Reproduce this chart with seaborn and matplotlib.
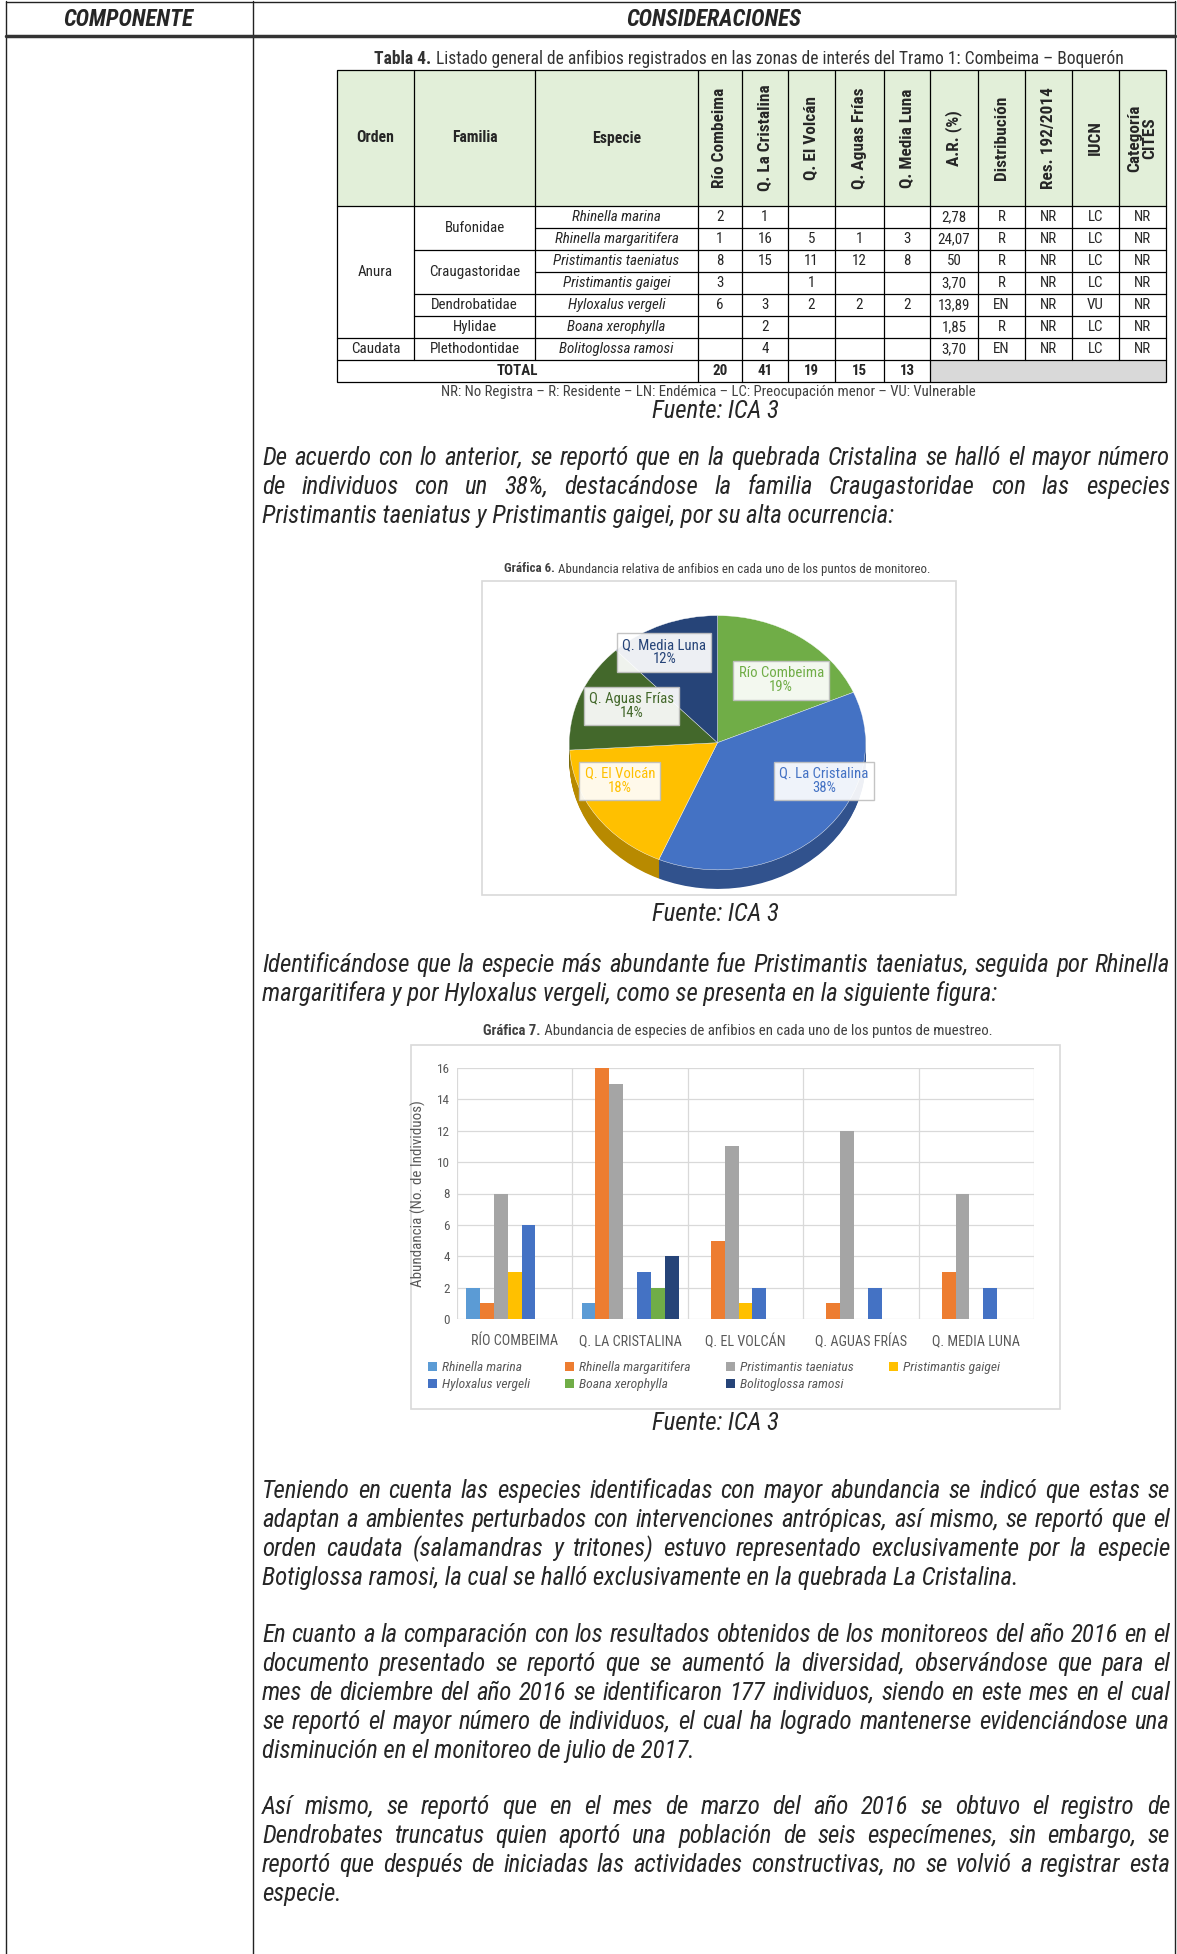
import numpy as np
import pandas as pd
import matplotlib
matplotlib.use('Agg')
import matplotlib.pyplot as plt
import matplotlib.font_manager as fm
from matplotlib.patches import Rectangle
import seaborn as sns

# Datos
sitios = ['Río Combeima', 'Q. La Cristalina', 'Q. El Volcán', 'Q. Aguas Frías', 'Q. Media Luna']
sitios_eje = ['RÍO COMBEIMA', 'Q. LA CRISTALINA', 'Q. EL VOLCÁN', 'Q. AGUAS FRÍAS', 'Q. MEDIA LUNA']
especies = ['Rhinella marina', 'Rhinella margaritifera', 'Pristimantis taeniatus', 'Pristimantis gaigei',
            'Hyloxalus vergeli', 'Boana xerophylla', 'Bolitoglossa ramosi']
familias = ['Bufonidae', 'Craugastoridae', 'Dendrobatidae', 'Hylidae', 'Plethodontidae']
familia_filas = [2, 2, 1, 1, 1]
ordenes = ['Anura', 'Caudata']
orden_filas = [6, 1]
# individuos por especie (fila) y sitio (columna)
conteos = [[2, 1, 0, 0, 0],
           [1, 16, 5, 1, 3],
           [8, 15, 11, 12, 8],
           [3, 0, 1, 0, 0],
           [6, 3, 2, 2, 2],
           [0, 2, 0, 0, 0],
           [0, 4, 0, 0, 0]]
distribucion = ['R', 'R', 'R', 'R', 'EN', 'R', 'EN']
resolucion = ['NR', 'NR', 'NR', 'NR', 'NR', 'NR', 'NR']
iucn = ['LC', 'LC', 'LC', 'LC', 'VU', 'LC', 'LC']
cites = ['NR', 'NR', 'NR', 'NR', 'NR', 'NR', 'NR']
encabezados_v = ['Río Combeima', 'Q. La Cristalina', 'Q. El Volcán', 'Q. Aguas Frías', 'Q. Media Luna',
                 'A.R. (%)', 'Distribución', 'Res. 192/2014', 'IUCN', 'Categoría\nCITES']

colores_especies = ['#5B9BD5', '#ED7D31', '#A5A5A5', '#FFC000', '#4472C4', '#70AD47', '#264478']
colores_pie = ['#70AD47', '#4472C4', '#FFC000', '#43682B', '#264478']

totales = [sum(f[j] for f in conteos) for j in range(len(sitios))]
gran_total = sum(totales)

parrafo1 = ["De acuerdo con lo anterior, se reportó que en la quebrada Cristalina se halló el mayor número",
            "de individuos con un 38%, destacándose la familia Craugastoridae con las especies",
            "Pristimantis taeniatus y Pristimantis gaigei, por su alta ocurrencia:"]
parrafo2 = ["Identificándose que la especie más abundante fue Pristimantis taeniatus, seguida por Rhinella",
            "margaritifera y por Hyloxalus vergeli, como se presenta en la siguiente figura:"]
parrafo3 = ["Teniendo en cuenta las especies identificadas con mayor abundancia se indicó que estas se",
            "adaptan a ambientes perturbados con intervenciones antrópicas, así mismo, se reportó que el",
            "orden caudata (salamandras y tritones) estuvo representado exclusivamente por la especie",
            "Botiglossa ramosi, la cual se halló exclusivamente en la quebrada La Cristalina."]
parrafo4 = ["En cuanto a la comparación con los resultados obtenidos de los monitoreos del año 2016 en el",
            "documento presentado se reportó que se aumentó la diversidad, observándose que para el",
            "mes de diciembre del año 2016 se identificaron 177 individuos, siendo en este mes en el cual",
            "se reportó el mayor número de individuos, el cual ha logrado mantenerse evidenciándose una",
            "disminución en el monitoreo de julio de 2017."]
parrafo5 = ["Así mismo, se reportó que en el mes de marzo del año 2016 se obtuvo el registro de",
            "Dendrobates truncatus quien aportó una población de seis especímenes, sin embargo, se",
            "reportó que después de iniciadas las actividades constructivas, no se volvió a registrar esta",
            "especie."]
parrafos = [parrafo1, parrafo2, parrafo3, parrafo4, parrafo5]

# Fuentes: se prefiere una tipografía angosta tipo Arial Narrow
sns.set_style('white')
nombres = {f.name for f in fm.fontManager.ttflist}
FUENTE = next((n for n in ['Liberation Sans Narrow', 'Arial Narrow', 'Roboto Condensed'] if n in nombres),
              'Liberation Sans')
plt.rcParams['font.family'] = [FUENTE, 'DejaVu Sans']

W, H = 1177, 1954
fig = plt.figure(figsize=(W / 100, H / 100), dpi=100)
ax = fig.add_axes([0, 0, 1, 1])
ax.set_xlim(0, W)
ax.set_ylim(H, 0)
ax.axis('off')
renderer = fig.canvas.get_renderer()


def frac(l, t, r, b):
    return [l / W, 1 - b / H, (r - l) / W, (b - t) / H]


def ancho(t):
    return t.get_window_extent(renderer).width


def medir(texto, size, family=None, **kw):
    t = ax.text(0, 0, texto, fontsize=size, family=family or [FUENTE], **kw)
    w = ancho(t)
    t.remove()
    return w


# factor de ancho de la fuente elegida respecto a Liberation Sans
muestra = 'Rhinella margaritifera Pristimantis 24,07'
WF = medir(muestra, 10) / medir(muestra, 10, family=['Liberation Sans'])

# Marco del formato
ax.plot([6, 6], [1, H], color='#222222', lw=1)
ax.plot([253, 253], [1, H], color='#222222', lw=1)
ax.plot([1175, 1175], [1, H], color='#222222', lw=1)
ax.plot([6, 1175], [1.5, 1.5], color='#222222', lw=1)
ax.plot([6, 1175], [36, 36], color='#333333', lw=2.5)
th = 14.6 / WF
ax.text(128, 19, 'COMPONENTE', fontsize=th, weight='bold', style='italic', ha='center', va='center')
ax.text(714, 19, 'CONSIDERACIONES', fontsize=th, weight='bold', style='italic', ha='center', va='center')

# Párrafos justificados
X0, X1, LH = 262, 1170, 29
TAM = min(10 * (X1 - X0 - 4) / medir(p[i], 10, style='italic')
          for p in parrafos for i in range(len(p) - 1))


def parrafo(lineas, y0):
    for i, linea in enumerate(lineas):
        y = y0 + i * LH
        palabras = linea.split(' ')
        if i == len(lineas) - 1:
            ax.text(X0, y, linea, fontsize=TAM, style='italic', va='center', ha='left')
            continue
        arts = [ax.text(0, y, p, fontsize=TAM, style='italic', va='center', ha='left') for p in palabras]
        anchos = [ancho(a) for a in arts]
        hueco = (X1 - X0 - sum(anchos)) / (len(palabras) - 1)
        x = X0
        for a, w in zip(arts, anchos):
            a.set_x(x)
            x += w + hueco


def titulo(xc, y, negrita, resto, size, color='#262626'):
    t1 = ax.text(0, y, negrita, fontsize=size, weight='bold', va='center', ha='left', color=color)
    t2 = ax.text(0, y, ' ' + resto, fontsize=size, va='center', ha='left', color=color)
    w1, w2 = ancho(t1), ancho(t2)
    t1.set_x(xc - (w1 + w2) / 2)
    t2.set_x(xc - (w1 + w2) / 2 + w1)


def fuente(y):
    ax.text(715, y, 'Fuente: ICA 3', fontsize=TAM, style='italic', ha='center', va='center')


# Tabla 4
titulo(749, 59, 'Tabla 4.', 'Listado general de anfibios registrados en las zonas de interés del Tramo 1: Combeima – Boquerón',
       11.2 / WF, color='#333333')
cols = [337, 414, 535, 698, 742, 788, 835, 884, 930, 978, 1025, 1072, 1119, 1166]
top, hb, rh = 70, 206, 22
nf = len(especies)
bottom = hb + (nf + 1) * rh
tc = '#262626'
ts = 9.6 / WF
ax.add_patch(Rectangle((cols[0], top), cols[-1] - cols[0], hb - top, color='#E2EFD9', lw=0))
ax.add_patch(Rectangle((cols[8], hb + nf * rh), cols[-1] - cols[8], rh, color='#D9D9D9', lw=0))
ax.add_patch(Rectangle((cols[0], top), cols[-1] - cols[0], bottom - top, fill=False, ec='black', lw=0.9))
ax.plot([cols[0], cols[-1]], [hb, hb], color='black', lw=0.9)
for k, c in enumerate(cols[1:-1], start=1):
    y_fin = bottom if k in (3, 4, 5, 6, 7, 8) else hb + nf * rh
    ax.plot([c, c], [top, y_fin], color='black', lw=0.9)
lim_fam = np.cumsum(familia_filas)
lim_ord = np.cumsum(orden_filas)
for k in range(1, nf + 1):
    y = hb + k * rh
    x_ini = cols[2]
    if k in lim_fam:
        x_ini = cols[1]
    if k in lim_ord:
        x_ini = cols[0]
    ax.plot([x_ini, cols[-1]], [y, y], color='black', lw=0.9)
ymid_h = (top + hb) / 2
for j, lab in enumerate(['Orden', 'Familia', 'Especie']):
    ax.text((cols[j] + cols[j + 1]) / 2, ymid_h, lab, fontsize=ts * 1.05, weight='bold', ha='center', va='center', color=tc)
for j, lab in enumerate(encabezados_v):
    ax.text((cols[j + 3] + cols[j + 4]) / 2, ymid_h, lab, fontsize=11 / WF, weight='bold', rotation=90,
            ha='center', va='center', color=tc, linespacing=1.0)
inicio = 0
for fam, n in zip(familias, familia_filas):
    ax.text((cols[1] + cols[2]) / 2, hb + (inicio + n / 2) * rh, fam, fontsize=ts, ha='center', va='center', color=tc)
    inicio += n
inicio = 0
for o, n in zip(ordenes, orden_filas):
    ax.text((cols[0] + cols[1]) / 2, hb + (inicio + n / 2) * rh, o, fontsize=ts, ha='center', va='center', color=tc)
    inicio += n
for i in range(nf):
    y = hb + (i + 0.5) * rh
    ax.text((cols[2] + cols[3]) / 2, y, especies[i], fontsize=ts, style='italic', ha='center', va='center', color=tc)
    for j in range(5):
        if conteos[i][j]:
            ax.text((cols[3 + j] + cols[4 + j]) / 2, y, str(conteos[i][j]), fontsize=ts, ha='center', va='center', color=tc)
    ar = sum(conteos[i]) / gran_total * 100
    ar_txt = f'{ar:.0f}' if abs(ar - round(ar)) < 1e-9 else f'{ar:.2f}'.replace('.', ',')
    for j, v in enumerate([ar_txt, distribucion[i], resolucion[i], iucn[i], cites[i]]):
        ax.text((cols[8 + j] + cols[9 + j]) / 2, y, v, fontsize=ts, ha='center', va='center', color=tc)
y = hb + (nf + 0.5) * rh
ax.text((cols[0] + cols[3]) / 2, y, 'TOTAL', fontsize=ts, weight='bold', ha='center', va='center', color=tc)
for j, t in enumerate(totales):
    ax.text((cols[3 + j] + cols[4 + j]) / 2, y, str(t), fontsize=ts, weight='bold', ha='center', va='center', color=tc)
ax.text(708, bottom + 10, 'NR: No Registra – R: Residente – LN: Endémica – LC: Preocupación menor – VU: Vulnerable',
        fontsize=9.4 / WF, ha='center', va='center', color='#404040')
fuente(411)

parrafo(parrafo1, 458)

# Gráfica 6 (torta 3D)
titulo(717, 569, 'Gráfica 6.', 'Abundancia relativa de anfibios en cada uno de los puntos de monitoreo.', 8.2 / WF, color='#404040')
ax.add_patch(Rectangle((482, 581), 956 - 482, 895 - 581, fill=False, ec='#D9D9D9', lw=1.2))
axp = fig.add_axes(frac(565, 613, 870, 894))
oscuros = [tuple(np.array(matplotlib.colors.to_rgb(c)) * 0.72) for c in colores_pie]
for off in np.linspace(0.15, 0.01, 24):
    axp.pie(totales, colors=oscuros, startangle=90, counterclock=False, center=(0, -off),
            wedgeprops=dict(linewidth=0))
wedges, _, autot = axp.pie(totales, colors=colores_pie, startangle=90, counterclock=False,
                           autopct='%1.0f%%', pctdistance=0.68, wedgeprops=dict(linewidth=0.3, edgecolor='#FFFFFF'))
pos_etiquetas = [(0.43, 0.49), (0.72, -0.30), (-0.66, -0.30), (-0.58, 0.29), (-0.36, 0.71)]
for t, nombre, c, pos in zip(autot, sitios, colores_pie, pos_etiquetas):
    t.set_text(f'{nombre}\n{t.get_text()}')
    t.set_position(pos)
    t.set_fontsize(9.4 / WF)
    t.set_color(c)
    t.set_linespacing(1.0)
    t.set_bbox(dict(facecolor='white', alpha=0.92, edgecolor='#BFBFBF', boxstyle='square,pad=0.35'))
axp.set_aspect('auto')
axp.set_xlim(-1.03, 1.03)
axp.set_ylim(-1.19, 1.02)
axp.axis('off')
fuente(914)

parrafo(parrafo2, 965)

# Gráfica 7 (barras agrupadas)
titulo(738, 1031, 'Gráfica 7.', 'Abundancia de especies de anfibios en cada uno de los puntos de muestreo.', 9.4 / WF, color='#404040')
ax.add_patch(Rectangle((411, 1045), 1060 - 411, 1409 - 1045, fill=False, ec='#D9D9D9', lw=1.2))
df = pd.DataFrame([(sitios_eje[j], especies[i], conteos[i][j]) for j in range(len(sitios)) for i in range(len(especies))],
                  columns=['sitio', 'especie', 'n'])
axb = fig.add_axes(frac(457, 1068, 1034, 1319))
sns.barplot(data=df, x='sitio', y='n', hue='especie', order=sitios_eje, hue_order=especies,
            palette=colores_especies, saturation=1, width=0.84, ax=axb, linewidth=0)
axb.set_ylim(0, 16)
axb.set_xlim(-0.5, 4.5)
axb.set_yticks(range(0, 17, 2))
axb.yaxis.grid(True, color='#D9D9D9', lw=0.9)
for xv in np.arange(-0.5, 5, 1):
    axb.axvline(xv, color='#D9D9D9', lw=0.9, zorder=0)
axb.set_axisbelow(True)
for s in axb.spines.values():
    s.set_visible(False)
axb.tick_params(axis='y', length=0, labelsize=8.4 / WF, colors='#595959', pad=5)
axb.tick_params(axis='x', length=0, labelsize=9 / WF, colors='#595959', pad=11)
axb.set_xlabel('')
axb.set_ylabel('Abundancia (No. de Individuos)', fontsize=9.6 / WF, color='#595959', labelpad=8)
h, l = axb.get_legend_handles_labels()
axb.get_legend().remove()
orden_leg = [0, 4, 1, 5, 2, 6, 3]
axb.legend([h[i] for i in orden_leg], [l[i] for i in orden_leg], ncol=4, loc='upper center',
           bbox_to_anchor=(0.445, -0.12), frameon=False, handlelength=0.7, handleheight=0.7,
           handletextpad=0.35, columnspacing=2.6, labelspacing=0.3,
           prop=dict(family=FUENTE, style='italic', size=8.6 / WF), labelcolor='#595959')
fuente(1423)

parrafo(parrafo3, 1491)
parrafo(parrafo4, 1635)
parrafo(parrafo5, 1807)

fig.savefig('out.png', dpi=100)
